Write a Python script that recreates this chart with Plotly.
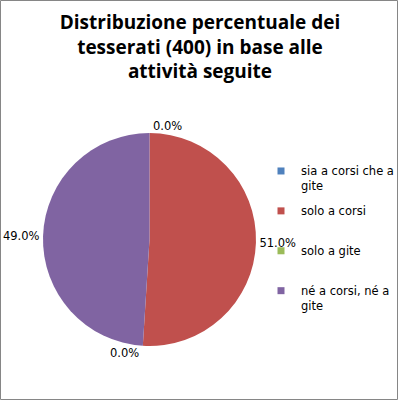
import plotly.graph_objects as go

labels = ["sia a corsi che a<br>gite", "solo a corsi", "solo a gite", "né a corsi, né a<br>gite"]
values = [0.0, 51.0, 0.0, 49.0]
colors = ["#4F81BD", "#C0504D", "#9BBB59", "#8064A2"]
title_text = "Distribuzione percentuale dei<br>tesserati (400) in base alle<br>attività seguite"

fig = go.Figure()
fig.add_trace(go.Pie(
    labels=labels,
    values=values,
    marker=dict(colors=colors, line=dict(width=0)),
    sort=False,
    direction="clockwise",
    rotation=0,
    textposition="outside",
    texttemplate="%{value:.1f}%",
    textfont=dict(family="DejaVu Sans", size=11.5, color="#000000"),
    domain=dict(x=[0.1075, 0.64], y=[0.135, 0.6675]),
    showlegend=False,
    automargin=False,
    hoverinfo="label+percent",
))

# legend entries (one per category)
for lab, col in zip(labels, colors):
    name = lab if "<br>" in lab else lab + "<br> "
    fig.add_trace(go.Scatter(
        x=[None], y=[None], mode="markers", name=name, legendgroup=lab,
        marker=dict(symbol="square", size=7, color=col),
        hoverinfo="skip",
    ))

fig.update_layout(
    width=400, height=400,
    margin=dict(l=0, r=0, t=0, b=0),
    paper_bgcolor="white",
    plot_bgcolor="white",
    xaxis=dict(visible=False),
    yaxis=dict(visible=False),
    title=dict(text="<b>" + title_text + "</b>", x=0.5, xanchor="center", y=0.9275, yanchor="top",
               font=dict(family="Open Sans", size=19, color="#000000")),
    legend=dict(x=0.6525, y=0.6075, xanchor="left", yanchor="top", valign="top",
                font=dict(family="DejaVu Sans", size=11.5, color="#000000"),
                itemwidth=30, traceorder="grouped", tracegroupgap=7,
                bgcolor="rgba(0,0,0,0)"),
    shapes=[dict(type="rect", xref="paper", yref="paper",
                 x0=0.5 / 400, y0=0.5 / 400, x1=397.5 / 400, y1=399.5 / 400,
                 line=dict(color="#868686", width=1))],
)

fig.write_html("out.html", config={"displayModeBar": False},
               post_script="document.body.style.margin='0';")
